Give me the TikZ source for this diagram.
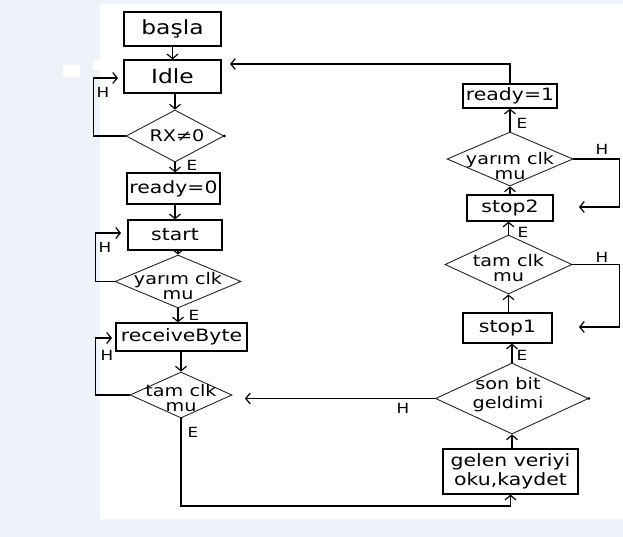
\documentclass[tikz,border=0pt]{standalone}
\usepackage{fontspec}
\setmainfont{DejaVu Sans}[FakeStretch=1.2]
\usetikzlibrary{arrows.meta,shapes.geometric}
\definecolor{bgblue}{HTML}{EEF2F9}
\begin{document}
\begin{tikzpicture}[x=1pt,y=-1pt,
 box/.style={draw=black,line width=1.3pt,rectangle,inner sep=0pt,font=\fontsize{17}{20}\selectfont},
 bigbox/.style={box,font=\fontsize{19.5}{22}\selectfont},
 dia/.style={draw=black!85,line width=0.9pt,diamond,inner sep=0pt},
 dtxt/.style={align=center,inner sep=0pt,font=\fontsize{16}{14.5}\selectfont},
 arr/.style={line width=1.2pt,-{Straight Barb[length=4.5pt,width=11pt]}},
 lab/.style={font=\fontsize{14}{16}\selectfont,inner sep=0pt},
 tipdot/.style={fill=black,circle,inner sep=0pt,minimum size=3pt}]
% background
\fill[bgblue] (0,0) rectangle (623,537);
\fill[white] (100,4) rectangle (623,519);
\fill[white] (63,65) rectangle (80,77);
\fill[white] (93,60) rectangle (100,70);
\useasboundingbox (0,0) rectangle (623,537);

% left column
\node[bigbox,minimum width=97pt,minimum height=34pt] (basla) at (172.5,29) {başla};
\node[bigbox,minimum width=97pt,minimum height=33pt] (idle) at (172.5,76.5) {Idle};
\node[dia,minimum width=98pt,minimum height=52pt] (rx) at (175,136) {};
\node[dtxt] (rxt) at (177,136) {RX≠0};
\node[box,minimum width=93pt,minimum height=31pt] (r0) at (173.5,188.5) {ready=0};
\node[box,minimum width=94pt,minimum height=30pt] (start) at (175,235) {start};
\node[dia,minimum width=126pt,minimum height=53pt] (y1) at (178,281.5) {};
\node[dtxt] (y1t) at (178,286) {yarım clk\\mu};
\node[box,minimum width=131pt,minimum height=28pt] (rb) at (181.5,337) {receiveByte};
\node[dia,minimum width=102pt,minimum height=46pt] (t1) at (181,395) {};
\node[dtxt] (t1t) at (181,398) {tam clk\\mu};

% right column
\node[box,minimum width=135pt,minimum height=45pt,align=center,font=\fontsize{17}{18.5}\selectfont] (gelen) at (510.5,471.5) {gelen veriyi\\oku,kaydet};
\node[dia,minimum width=153pt,minimum height=71pt] (son) at (512,398.5) {};
\node[dtxt,font=\fontsize{16}{19}\selectfont] (sont) at (508,395) {son bit\\geldimi};
\node[box,minimum width=89pt,minimum height=30pt] (stop1) at (507.5,328) {stop1};
\node[dia,minimum width=127pt,minimum height=59pt] (t2) at (508.5,264.5) {};
\node[dtxt] (t2t) at (508.5,268) {tam clk\\mu};
\node[box,minimum width=86pt,minimum height=26pt] (stop2) at (510,208) {stop2};
\node[dia,minimum width=126pt,minimum height=54pt] (y2) at (510,159) {};
\node[dtxt] (y2t) at (510,166) {yarım clk\\mu};
\node[box,minimum width=94pt,minimum height=24pt] (ready1) at (510,96) {ready=1};

% free ends
\coordinate (idleIn) at (118,78);
\coordinate (startIn) at (121,233);
\coordinate (rbIn) at (112,338);
\coordinate (tamIn) at (245,398.5);
\coordinate (idleTop) at (230,64);
\coordinate (stop1In) at (579,327);
\coordinate (stop2In) at (579,207);
\coordinate (botrow) at (0,506);

% left column connectors
\draw[arr] (basla.south) -- (idle.north);
\draw[arr] (rx.north |- idle.south) -- (rx.north);
\draw[arr] (rx.south) -- (rx.south |- r0.north);
\draw[arr] (r0.south -| start.north) -- (start.north);
\draw[arr] (y1.north |- start.south) -- (y1.north);
\draw[arr] (y1.south) -- (y1.south |- rb.north);
\draw[arr] (t1.north |- rb.south) -- (t1.north);
\draw[arr] (rx.west) -- ++(-32,0) |- (idleIn);
\draw[arr] (y1.west) -- ++(-19,0) |- (startIn);
\draw[arr] (t1.west) -- ++(-34,0) |- (rbIn);
\draw[arr] (t1.south) -- (t1.south |- botrow) -| (gelen.south);

% right column connectors
\draw[arr] (son.south |- gelen.north) -- (son.south);
\draw[arr] (son.west) -- (tamIn);
\draw[arr] (son.north) -- (son.north |- stop1.south);
\draw[arr] (t2.south |- stop1.north) -- (t2.south);
\draw[arr] (t2.north) -- (t2.north |- stop2.south);
\draw[arr] (y2.south |- stop2.north) -- (y2.south);
\draw[arr] (y2.north) -- (y2.north |- ready1.south);
\draw[arr] (t2.east) -- ++(47,0) |- (stop1In);
\draw[arr] (y2.east) -- ++(46,0) |- (stop2In);
\draw[arr] (ready1.north) |- (idleTop);

% dots at diamond tips
\node[tipdot] (d1) at (rx.east) {};
\node[tipdot] (d2) at (son.east) {};

% labels
\node[lab] (h1) at (103,92) {H};
\node[lab] (e1) at (192,165) {E};
\node[lab] (h2) at (105,247) {H};
\node[lab] (e2) at (194,315) {E};
\node[lab] (h3) at (107,355) {H};
\node[lab] (e3) at (193,432) {E};
\node[lab] (h4) at (403,408) {H};
\node[lab] (e4) at (522,355) {E};
\node[lab] (h5) at (602,257) {H};
\node[lab] (e5) at (523,232) {E};
\node[lab] (h6) at (602,149) {H};
\node[lab] (e6) at (522,123) {E};
\end{tikzpicture}
\end{document}
